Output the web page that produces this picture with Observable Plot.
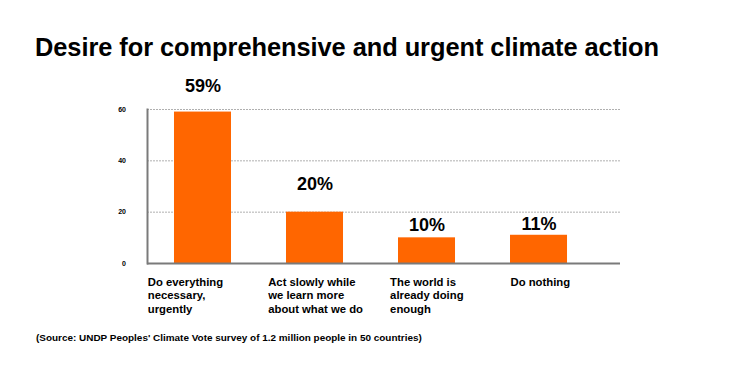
<!DOCTYPE html>
<html>
<head>
<meta charset="utf-8">
<script src="https://cdn.jsdelivr.net/npm/d3@7"></script>
<script src="https://cdn.jsdelivr.net/npm/@observablehq/plot@0.6"></script>
<style>
  html, body { margin: 0; padding: 0; background: #fff; }
  body { width: 730px; height: 365px; position: relative; overflow: hidden; font-family: "Liberation Sans", Arial, Helvetica, sans-serif; color: #000; }
  #title { position: absolute; left: 35px; top: 32px; font-size: 25.4px; line-height: 30px; font-weight: bold; white-space: nowrap; letter-spacing: -0.05px; }
  #chart { position: absolute; left: 0; top: 70px; }
  #source { position: absolute; left: 36px; top: 332px; font-size: 9.95px; line-height: 12px; font-weight: bold; white-space: nowrap; }
</style>
</head>
<body>
<div id="title"></div>
<div id="chart"></div>
<div id="source"></div>
<script>
// ---- data ----
const titleText = "Desire for comprehensive and urgent climate action";
const sourceText = "(Source: UNDP Peoples' Climate Vote survey of 1.2 million people in 50 countries)";
const categories = [
  "Do everything\nnecessary,\nurgently",
  "Act slowly while\nwe learn more\nabout what we do",
  "The world is\nalready doing\nenough",
  "Do nothing"
];
const values = [59, 20, 10, 11];
const valueLabels = ["59%", "20%", "10%", "11%"];
const yTicks = [0, 20, 40, 60];

// ---- build ----
document.getElementById("title").textContent = titleText;
document.getElementById("source").textContent = sourceText;

const data = categories.map((c, i) => ({category: c, value: values[i], label: valueLabels[i]}));

const orange = "#ff6600";
const axisGrey = "#7a7a7a";

// per-label offsets (layout only)
const valueDy = [-26, -27.5, -12.3, -11];
const catDx = [-55.2, -46.8, -36.9, -28.5];

const marks = [
  Plot.ruleY(yTicks.filter(t => t > 0), {stroke: "#b0b0b0", strokeWidth: 1, strokeDasharray: "2,1"}),
  Plot.barY(data, {x: "category", y: "value", fill: orange}),
  Plot.ruleY([0], {stroke: axisGrey, strokeWidth: 2}),
  Plot.frame({anchor: "left", stroke: axisGrey, strokeWidth: 2}),
  Plot.axisY({ticks: yTicks, tickSize: 0, tickPadding: 21.5, fontSize: 7, fontWeight: "bold", fill: "#000", label: null, tickFormat: d => String(d)}),
  ...data.map((d, i) => Plot.text([d], {
    x: "category", y: "value", text: "label", dy: valueDy[i],
    fontSize: 18, fontWeight: "bold", fill: "#000"
  })),
  ...data.map((d, i) => Plot.text([d], {
    x: "category", y: 0, text: "category", dx: catDx[i], dy: 12.6,
    textAnchor: "start", lineAnchor: "top", lineHeight: 1.2,
    fontSize: 11.3, fontWeight: "bold", fill: "#000"
  }))
];

const chart = Plot.plot({
  width: 730,
  height: 255,
  marginTop: 39,
  marginBottom: 62,
  marginLeft: 147,
  marginRight: 110,
  style: {fontFamily: "'Liberation Sans', Arial, Helvetica, sans-serif", background: "transparent", color: "#000"},
  x: {type: "band", domain: categories, paddingInner: 0.491, paddingOuter: 0.357, align: 0.3375, round: false, axis: null},
  y: {domain: [0, 60], axis: null},
  marks
});
document.getElementById("chart").appendChild(chart);
</script>
</body>
</html>
